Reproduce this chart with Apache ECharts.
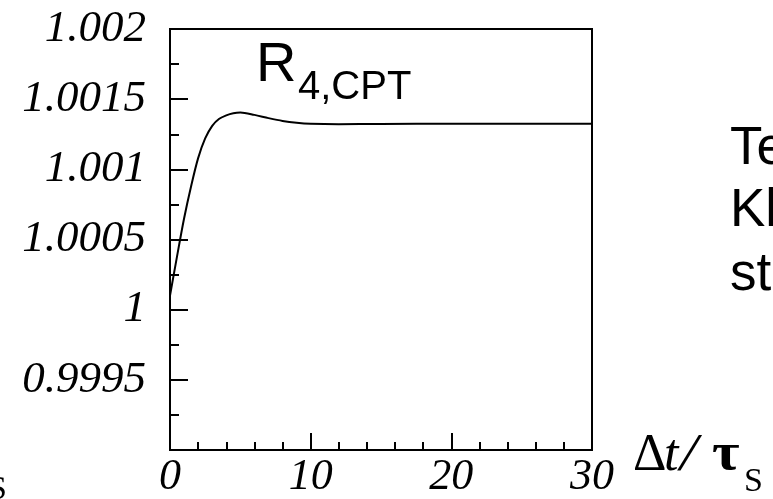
<!DOCTYPE html>
<html>
<head>
<meta charset="utf-8">
<script src="https://cdn.jsdelivr.net/npm/echarts@6/dist/echarts.min.js"></script>
<style>
html,body{margin:0;padding:0;background:#fff;}
#chart{width:773px;height:499px;}
</style>
</head>
<body>
<div id="chart"></div>
<script>
// Δt/τS values
const tValues = [0, 0.5, 1, 1.5, 2, 2.5, 3, 3.5, 4, 4.5, 5, 6, 7, 8, 9, 10, 12, 15, 20, 25, 30];
// R_{4,CPT} values
const rValues = [1.00010, 1.00038, 1.00065, 1.00088, 1.00108, 1.00122, 1.00131, 1.00136, 1.001385, 1.001400, 1.001405,
                 1.001388, 1.001365, 1.001345, 1.001332, 1.001325, 1.001322, 1.001323, 1.001325, 1.001325, 1.001325];
const yTickValues = [0.999, 0.9995, 1, 1.0005, 1.001, 1.0015, 1.002];
const yTickLabels = ['', '0.9995', '1', '1.0005', '1.001', '1.0015', '1.002'];
const xTickLabels = ['0', '10', '20', '30'];

const serif = '"Liberation Serif", "Times New Roman", serif';
const sans = '"Liberation Sans", Arial, sans-serif';

const chart = echarts.init(document.getElementById('chart'), null, {renderer: 'canvas'});
const data = tValues.map((t, i) => [t, rValues[i]]);

const yLabelFmt = function (v) {
  for (let i = 0; i < yTickValues.length; i++) {
    if (Math.abs(v - yTickValues[i]) < 1e-9) return yTickLabels[i];
  }
  return '';
};

function txt(x, y, s, size, family, style, weight, sx) {
  return {type: 'text', x: x, y: y, scaleX: sx || 1, style: {text: s, fontSize: size, fontFamily: family,
    fontStyle: style || 'normal', fontWeight: weight || 'normal', fill: '#000'}};
}

chart.setOption({
  animation: false,
  backgroundColor: '#fff',
  grid: {left: 170, right: 181, top: 29, bottom: 48, show: true, borderColor: '#000', borderWidth: 2, backgroundColor: 'transparent'},
  xAxis: {
    type: 'value', min: 0, max: 30, interval: 10,
    axisLine: {show: true, onZero: false, lineStyle: {color: '#000', width: 2}},
    axisTick: {show: true, inside: true, length: 17, lineStyle: {color: '#000', width: 2}},
    minorTick: {show: true, splitNumber: 5, length: 8, lineStyle: {color: '#000', width: 2}},
    splitLine: {show: false},
    axisLabel: {
      margin: 5, color: '#000', fontFamily: serif, fontStyle: 'italic', fontSize: 44,
      formatter: function (v) { const i = Math.round(v / 10); return xTickLabels[i] !== undefined ? xTickLabels[i] : ''; }
    }
  },
  yAxis: {
    type: 'value', min: 0.999, max: 1.002, interval: 0.0005,
    axisLine: {show: true, onZero: false, lineStyle: {color: '#000', width: 2}},
    axisTick: {show: true, inside: true, length: 18, lineStyle: {color: '#000', width: 2}},
    minorTick: {show: true, splitNumber: 2, length: 9, lineStyle: {color: '#000', width: 2}},
    splitLine: {show: false},
    axisLabel: {
      margin: 24, color: '#000', fontFamily: serif, fontStyle: 'italic', fontSize: 45,
      showMinLabel: false, showMaxLabel: true,
      formatter: yLabelFmt
    }
  },
  series: [{
    type: 'line', data: data, smooth: 0.3, showSymbol: false,
    lineStyle: {color: '#000', width: 2}
  }],
  graphic: [
    txt(256, 38, 'R', 56, sans),
    txt(298, 68, '4,CPT', 40, sans),
    txt(730, 123, 'Te', 53, sans),
    txt(730, 185, 'Kl', 53, sans),
    txt(730, 249, 'st', 53, sans),
    txt(633, 430, 'Δ', 52, serif),
    txt(664, 430, 't', 52, serif, 'italic'),
    txt(680, 430, '/', 52, serif, 'italic', 'normal', 1.2),
    txt(712, 430, 'τ', 52, serif, 'normal', 'bold', 1.15),
    txt(744, 465, 'S', 34, serif),
    txt(-12, 473, 'S', 34, serif)
  ]
});
</script>
</body>
</html>
